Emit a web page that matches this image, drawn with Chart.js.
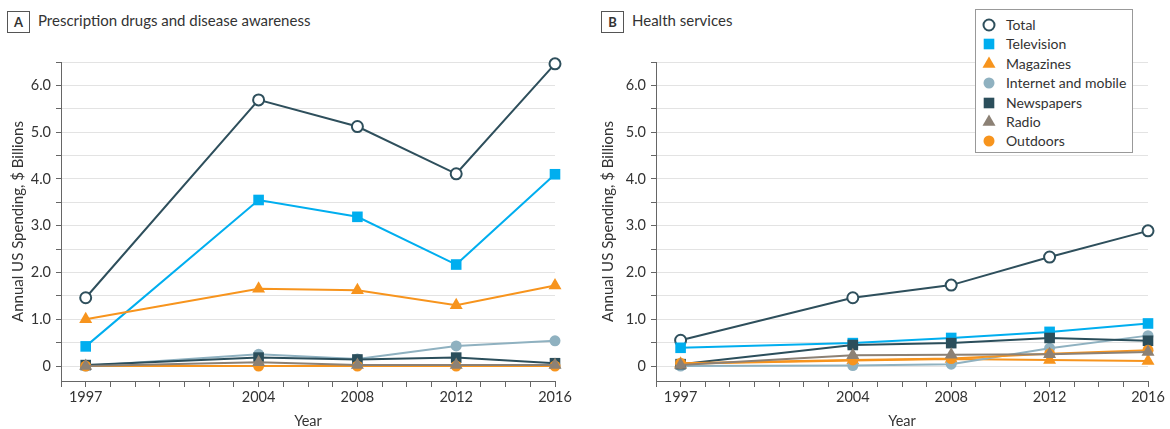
<!DOCTYPE html>
<html>
<head>
<meta charset="utf-8">
<script src="https://cdn.jsdelivr.net/npm/chart.js@4/dist/chart.umd.min.js"></script>
<style>
  body { margin: 0; background: #fff; width: 1170px; height: 429px; overflow: hidden; position: relative; font-family: Lato, sans-serif; color: #333; }
  canvas { position: absolute; top: 0; }
  .tag { position: absolute; top: 11px; width: 21px; height: 20px; border: 1px solid #555; font-weight: bold; font-size: 13px; text-align: center; line-height: 20px; }
  .title { position: absolute; top: 9px; font-size: 15px; line-height: 22px; }
  .legend { position: absolute; left: 975px; top: 9px; width: 158px; height: 144px; border: 1px solid #999; box-sizing: border-box; padding-top: 5px; background: #fff; }
  .legend div { position: relative; height: 19.4px; line-height: 19.4px; font-size: 14px; padding-left: 30px; }
  .legend canvas { position: absolute; left: 4px; top: 1px; }
</style>
</head>
<body>
<div class="tag" style="left:7px">A</div>
<div class="title" style="left:38px">Prescription drugs and disease awareness</div>
<div class="tag" style="left:601px">B</div>
<div class="title" style="left:632px">Health services</div>
<canvas id="chartA" width="585" height="429" style="left:0"></canvas>
<canvas id="chartB" width="580" height="429" style="left:590px"></canvas>
<div class="legend" id="legend"></div>
<script>
// shared axis info
const years = [1997, 2004, 2008, 2012, 2016];
const yearLabels = [1997, 2004, 2008, 2012, 2016];
const yTicks = [0, 0.5, 1, 1.5, 2, 2.5, 3, 3.5, 4, 4.5, 5, 5.5, 6, 6.5];

const seriesNames = ['Total', 'Television', 'Magazines', 'Internet and mobile', 'Newspapers', 'Radio', 'Outdoors'];
const seriesColors = ['#2e4f5c', '#00aeef', '#f7941d', '#8fb1c0', '#2b4e5b', '#8c8175', '#f7941d'];
const seriesShapes = ['circle', 'rect', 'triangle', 'circle', 'rect', 'triangle', 'circle'];

// A - prescription drugs and disease awareness ($ billions)
const rxTotal = [1.46, 5.69, 5.12, 4.11, 6.46];
const rxTelevision = [0.42, 3.55, 3.19, 2.17, 4.1];
const rxMagazines = [1.0, 1.65, 1.62, 1.3, 1.72];
const rxInternet = [0, 0.25, 0.15, 0.43, 0.54];
const rxNewspapers = [0.02, 0.18, 0.14, 0.18, 0.06];
const rxRadio = [0, 0.08, 0.02, 0.02, 0.02];
const rxOutdoors = [0, 0, 0, 0, 0];

// B - health services ($ billions)
const hsTotal = [0.55, 1.46, 1.73, 2.33, 2.89];
const hsTelevision = [0.39, 0.49, 0.6, 0.73, 0.91];
const hsMagazines = [0.05, 0.12, 0.15, 0.13, 0.11];
const hsInternet = [0, 0.01, 0.04, 0.38, 0.65];
const hsNewspapers = [0.04, 0.45, 0.49, 0.6, 0.54];
const hsRadio = [0.02, 0.23, 0.24, 0.25, 0.3];
const hsOutdoors = [0.06, 0.13, 0.16, 0.26, 0.34];

const textColor = '#333';
const axisColor = '#666';
const fontFamily = 'Lato, sans-serif';

function pointRadius(shape) {
    return shape === 'circle' ? 5.5 : 7.5;
}

function buildDatasets(seriesValues) {
    const drawOrder = [0, -1, -2, -3, -4, -6, -5];
    return seriesValues.map(function(values, i) {
        const isTotal = i === 0;
        return {
            label: seriesNames[i],
            data: years.map(function(yr, j) { return { x: yr, y: values[j] }; }),
            borderColor: seriesColors[i],
            borderWidth: 2,
            pointStyle: seriesShapes[i],
            pointRadius: pointRadius(seriesShapes[i]),
            pointBackgroundColor: isTotal ? '#fff' : seriesColors[i],
            pointBorderColor: seriesColors[i],
            pointBorderWidth: isTotal ? 2 : 0,
            order: drawOrder[i],
            clip: false
        };
    });
}

function makeChart(id, seriesValues, yWidth, rightPad) {
    return new Chart(document.getElementById(id), {
        type: 'line',
        data: { datasets: buildDatasets(seriesValues) },
        options: {
            responsive: false,
            animation: false,
            layout: { padding: { top: 62, right: rightPad, left: 0, bottom: 0 } },
            plugins: { legend: { display: false }, tooltip: { enabled: false } },
            scales: {
                x: {
                    type: 'linear',
                    min: 1996,
                    max: 2016,
                    afterFit: function(s) { s.height = 48; },
                    ticks: {
                        stepSize: 1,
                        autoSkip: false,
                        maxRotation: 0,
                        padding: 2,
                        color: textColor,
                        font: { family: fontFamily, size: 14.5 },
                        callback: function(v) { return yearLabels.includes(v) ? String(v) : ''; }
                    },
                    grid: { drawOnChartArea: false, tickLength: 6, tickColor: axisColor },
                    border: { color: axisColor },
                    title: {
                        display: true,
                        text: 'Year',
                        color: textColor,
                        font: { family: fontFamily, size: 14.5, lineHeight: 1 },
                        padding: { bottom: 0, top: 0 }
                    }
                },
                y: {
                    min: -0.32,
                    max: 6.5,
                    afterFit: function(s) { s.width = yWidth; },
                    afterBuildTicks: function(s) { s.ticks = yTicks.map(function(v) { return { value: v }; }); },
                    ticks: {
                        autoSkip: false,
                        padding: 5,
                        color: textColor,
                        font: { family: fontFamily, size: 14.5 },
                        callback: function(v) {
                            if (!Number.isInteger(v)) return '';
                            return v === 0 ? '0' : v.toFixed(1);
                        }
                    },
                    grid: { color: '#e3e3e3', tickColor: axisColor, tickLength: 5 },
                    border: { color: axisColor },
                    title: {
                        display: true,
                        text: 'Annual US Spending, $ Billions',
                        color: textColor,
                        font: { family: fontFamily, size: 15 },
                        padding: { top: 9, bottom: 0 }
                    }
                }
            }
        }
    });
}

makeChart('chartA', [rxTotal, rxTelevision, rxMagazines, rxInternet, rxNewspapers, rxRadio, rxOutdoors], 61, 30);
makeChart('chartB', [hsTotal, hsTelevision, hsMagazines, hsInternet, hsNewspapers, hsRadio, hsOutdoors], 66, 22);

// legend
const legendBox = document.getElementById('legend');
seriesNames.forEach(function(name, i) {
    const row = document.createElement('div');
    const c = document.createElement('canvas');
    c.width = 18; c.height = 18;
    const ctx = c.getContext('2d');
    const isTotal = i === 0;
    ctx.fillStyle = isTotal ? '#fff' : seriesColors[i];
    ctx.strokeStyle = seriesColors[i];
    ctx.lineWidth = isTotal ? 2 : 0;
    Chart.helpers.drawPoint(ctx, {
        pointStyle: seriesShapes[i],
        radius: pointRadius(seriesShapes[i]),
        rotation: 0,
        borderWidth: isTotal ? 2 : 0
    }, 9, 9);
    row.appendChild(c);
    row.appendChild(document.createTextNode(name));
    legendBox.appendChild(row);
});
</script>
</body>
</html>
